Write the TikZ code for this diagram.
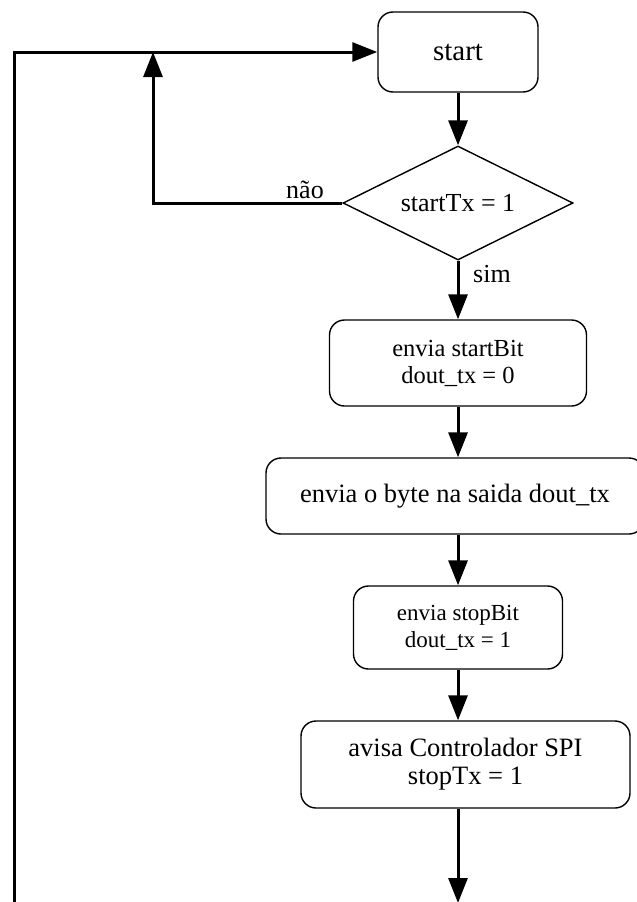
\documentclass[tikz,border=0pt]{standalone}
\usepackage{fontspec}
\setmainfont{Liberation Serif}
\usetikzlibrary{arrows.meta,shapes.geometric}

\tikzset{
  procbox/.style={draw, line width=1.4pt, rounded corners=15pt, align=center, inner sep=0pt},
  decision/.style={draw, diamond, aspect=2, line width=1.4pt, inner sep=0pt,
    minimum width=230pt, minimum height=114pt},
  flow/.style={line width=3pt, -{Triangle[length=25pt,width=19pt]}},
  lbl/.style={inner sep=0pt, font=\fontsize{26}{27}\selectfont}
}

\begin{document}
\begin{tikzpicture}[x=1pt,y=-1pt]
\useasboundingbox (0,0) rectangle (637,902);

% process steps
\node[procbox, minimum width=160pt, minimum height=80pt,
      font=\fontsize{29}{30}\selectfont] (start) at (458,52) {start};
\node[decision, font=\fontsize{26}{27}\selectfont] (dec) at (458,203) {startTx = 1};
\node[procbox, minimum width=257pt, minimum height=86pt,
      font=\fontsize{24.5}{27}\selectfont] (b1) at (458,363) {envia startBit\\dout\_tx = 0};
\node[procbox, minimum width=378pt, minimum height=76pt,
      font=\fontsize{26.5}{28}\selectfont] (b2) at (455,496) {envia o byte na saida dout\_tx};
\node[procbox, minimum width=209pt, minimum height=83pt,
      font=\fontsize{23}{27}\selectfont] (b3) at (458,627.5) {envia stopBit\\dout\_tx = 1};
\node[procbox, minimum width=329pt, minimum height=87pt,
      font=\fontsize{26.5}{28}\selectfont] (b4) at (465.5,764.5) {avisa Controlador SPI\\stopTx = 1};

% branch labels
\node[lbl] (naolbl) at (305,190) {não};
\node[lbl, anchor=west] (simlbl) at (473,274) {sim};

% free ends of the loop lines
\coordinate (nojoin) at (153,52);
\coordinate (loopfoot) at (14.5,906);
\coordinate (tail) at (458,903);

% connectors
\draw[flow] (start) -- (dec);
\draw[flow] (dec.south) -- (dec.south |- b1.north);
\draw[flow] (b1.south) -- (b1.south |- b2.north);
\draw[flow] (b1.south |- b2.south) -- (b3.north);
\draw[flow] (b3.south) -- (b3.south |- b4.north);
\draw[flow] (b4.south -| tail) -- (tail);
\draw[flow] (dec.west) -| (nojoin);
\draw[flow] (loopfoot) |- (start.west);
\end{tikzpicture}
\end{document}
